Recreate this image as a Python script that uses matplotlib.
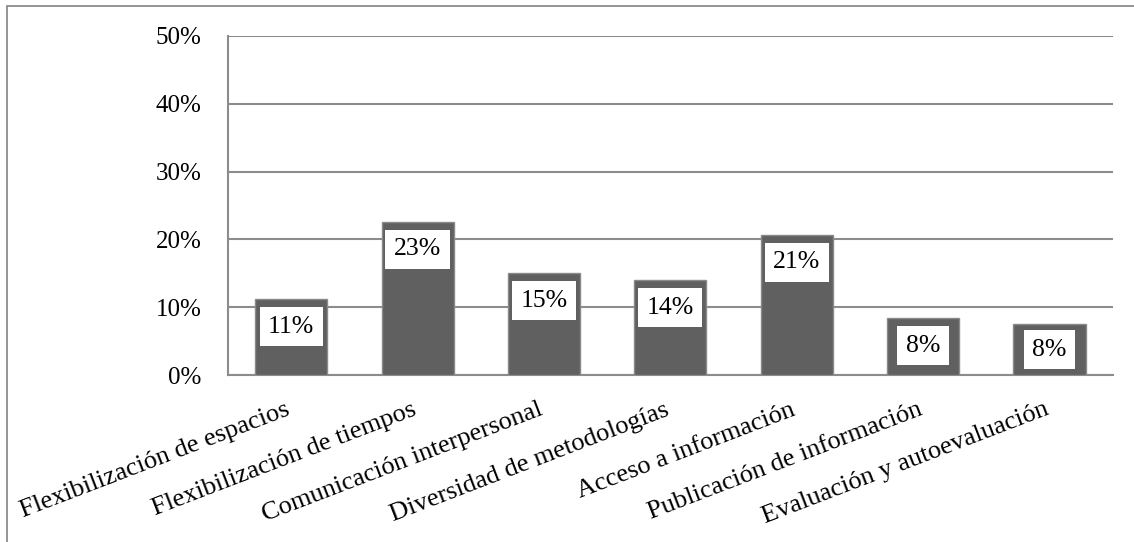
import matplotlib
matplotlib.use("Agg")
import matplotlib.pyplot as plt
import matplotlib.transforms as mtransforms
from matplotlib.patches import Rectangle

categories = ["Flexibilización de espacios", "Flexibilización de tiempos",
              "Comunicación interpersonal", "Diversidad de metodologías",
              "Acceso a información", "Publicación de información",
              "Evaluación y autoevaluación"]
values = [11.2, 22.6, 15.0, 14.0, 20.7, 8.4, 7.5]
value_labels = ["11%", "23%", "15%", "14%", "21%", "8%", "8%"]
yticks = [0, 10, 20, 30, 40, 50]
ytick_labels = ["0%", "10%", "20%", "30%", "40%", "50%"]

plt.rcParams['font.family'] = ['Liberation Serif', 'DejaVu Serif']

W, H = 1134, 542
ax_top_px, ax_bot_px = 36, 375
fig = plt.figure(figsize=(W/100, H/100), dpi=100)
ax = fig.add_axes([228/W, 1-ax_bot_px/H, (1112.7-228)/W, (ax_bot_px-ax_top_px)/H])

# outer frame (only top and left visible)
fig.patches.append(Rectangle((7/W, -0.2), 1.2, 1 - 6/H + 0.2, transform=fig.transFigure,
                             fill=False, edgecolor='#8c8c8c', linewidth=1.3))

x = range(len(categories))
ax.bar(x, values, width=0.57, color='#606060', edgecolor='#8a8a8a', linewidth=1.0, zorder=3)

ax.set_xlim(-0.5, len(categories)-0.5)
ax.set_ylim(0, 50)
ax.set_yticks(yticks)
ax.set_yticklabels(ytick_labels, fontsize=18)
ax.yaxis.grid(True, color='#8c8c8c', linewidth=1.5, zorder=0)
ax.set_axisbelow(True)
ax.tick_params(axis='y', length=0, pad=19)
ax.tick_params(axis='x', length=0, pad=17)
for s in ['top', 'right']:
    ax.spines[s].set_visible(False)
for s in ['left', 'bottom']:
    ax.spines[s].set_color('#8c8c8c')
    ax.spines[s].set_linewidth(1.5)

ax.set_xticks(list(x))
ax.set_xticklabels(categories, fontsize=19, rotation=21, ha='right', va='top',
                   rotation_mode='anchor')
offset = mtransforms.ScaledTranslation(-6/100, 0, fig.dpi_scale_trans)
for lbl in ax.get_xticklabels():
    lbl.set_transform(lbl.get_transform() + offset)

px_per_unit = (ax_bot_px - ax_top_px) / 50.0
pad_px = 8.5
box_h = 38
for i, (v, t) in enumerate(zip(values, value_labels)):
    bar_px = v * px_per_unit
    # box top 8px below bar top, but keep box at least 7px above the base
    box_top = min(8, bar_px - 7 - box_h)
    off = box_top + pad_px
    ax.annotate(t, xy=(i, v), xytext=(0, -off), textcoords='offset pixels',
                ha='center', va='top', fontsize=18.5, zorder=5,
                bbox=dict(boxstyle='square,pad=0.33', facecolor='white', edgecolor='none'))

fig.savefig("out.png", dpi=100)
